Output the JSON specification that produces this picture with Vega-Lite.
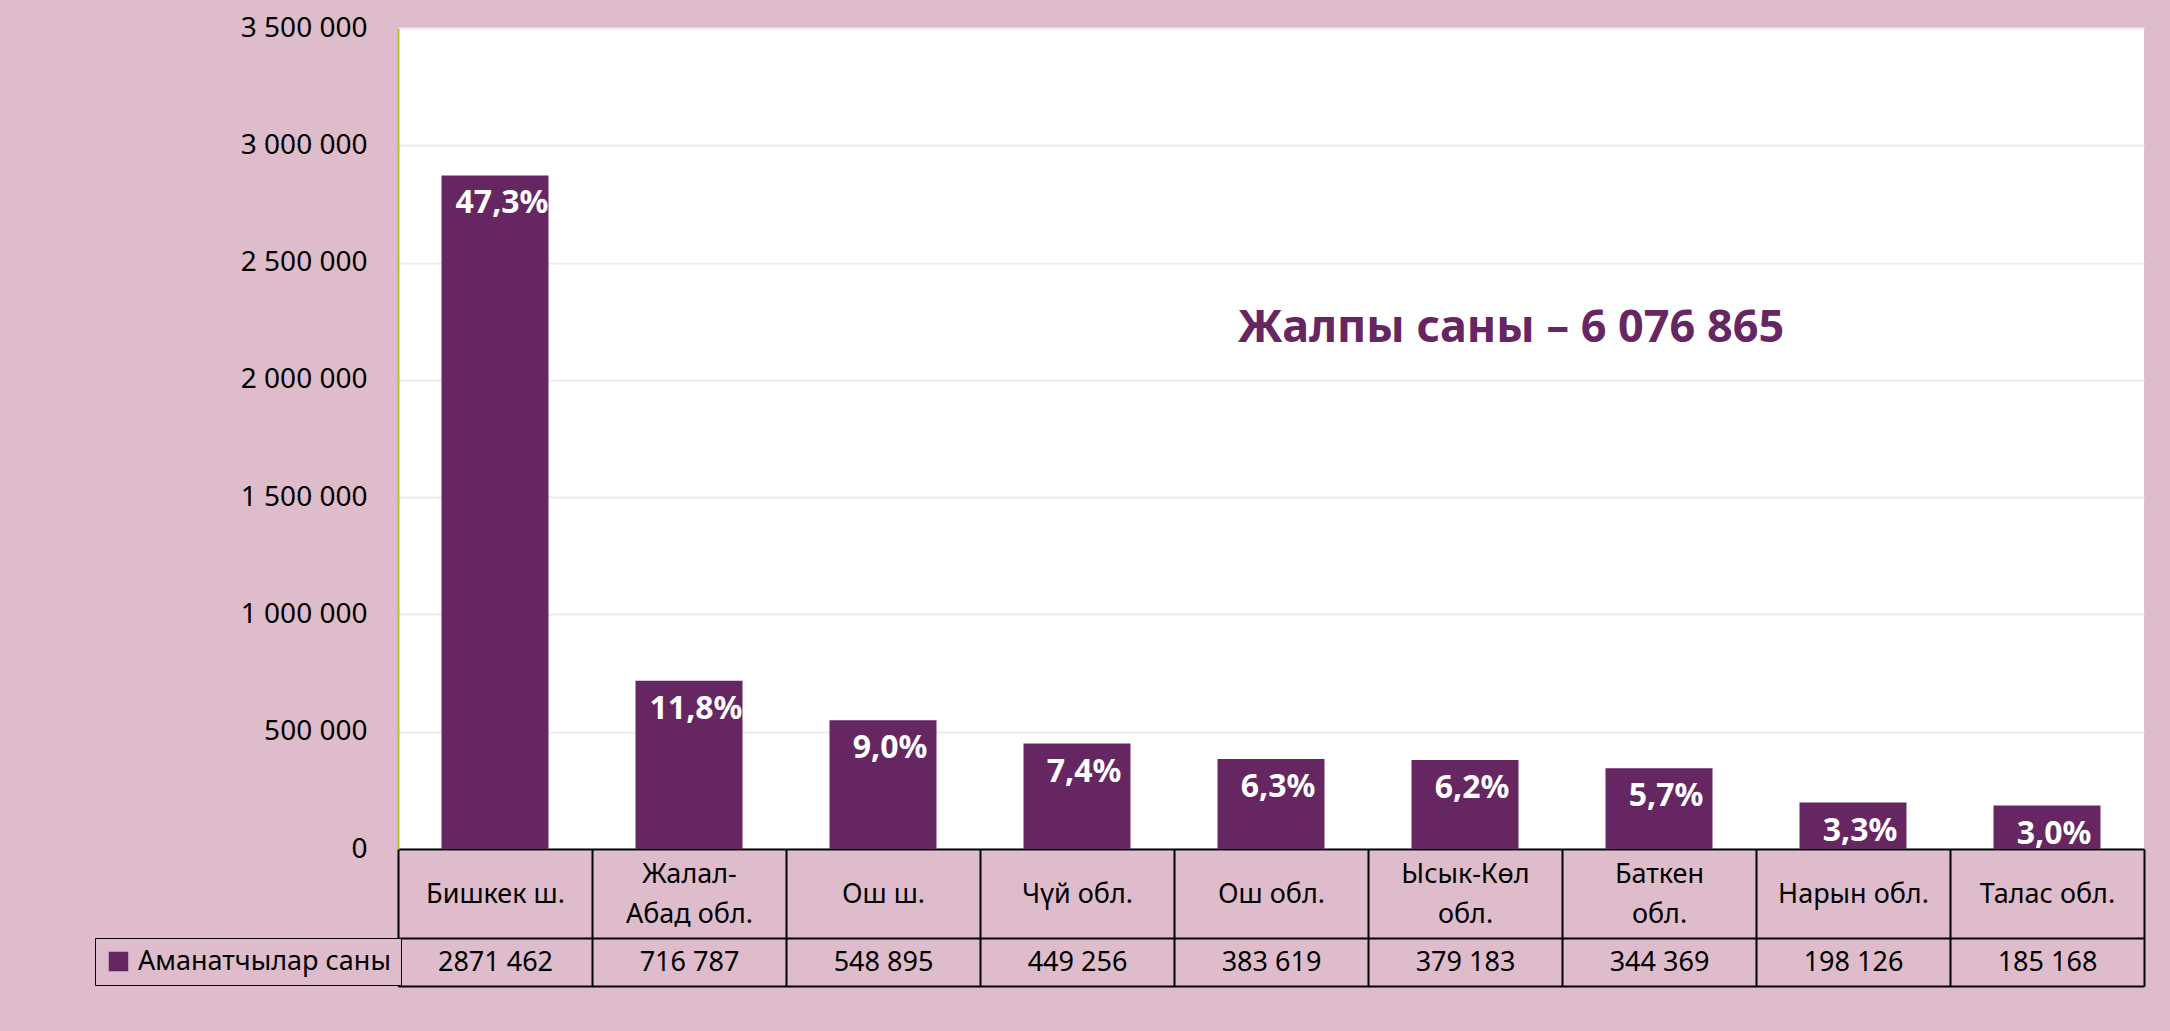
{
  "$schema": "https://vega.github.io/schema/vega-lite/v6.json",
  "width": 1746,
  "height": 821,
  "autosize": {"type": "none"},
  "padding": {"left": 398, "top": 28, "right": 26, "bottom": 182},
  "background": "#debccc",
  "config": {
    "locale": {"number": {"decimal": ",", "thousands": " ", "grouping": [3], "currency": ["", ""]}},
    "view": {"fill": "white", "stroke": null},
    "font": "Noto Sans",
    "axis": {"labelFont": "Noto Sans", "labelFontSize": 28, "labelColor": "#000000", "title": null}
  },
  "data": {
    "values": [
      {"region": "Бишкек ш.", "count": 2871462, "share": 0.473, "countText": "2871 462"},
      {"region": "Жалал-Абад обл.", "count": 716787, "share": 0.118, "countText": "716 787"},
      {"region": "Ош ш.", "count": 548895, "share": 0.090, "countText": "548 895"},
      {"region": "Чүй обл.", "count": 449256, "share": 0.074, "countText": "449 256"},
      {"region": "Ош обл.", "count": 383619, "share": 0.063, "countText": "383 619"},
      {"region": "Ысык-Көл обл.", "count": 379183, "share": 0.062, "countText": "379 183"},
      {"region": "Баткен обл.", "count": 344369, "share": 0.057, "countText": "344 369"},
      {"region": "Нарын обл.", "count": 198126, "share": 0.033, "countText": "198 126"},
      {"region": "Талас обл.", "count": 185168, "share": 0.030, "countText": "185 168"}
    ]
  },
  "layer": [
    {
      "mark": {"type": "bar", "width": {"band": 0.5515}},
      "encoding": {
        "x": {
          "field": "region", "type": "nominal", "sort": null,
          "scale": {"paddingInner": 0, "paddingOuter": 0},
          "axis": {
            "orient": "bottom", "offset": 0, "title": null,
            "domain": true, "domainColor": "#000000", "domainWidth": 2,
            "ticks": true, "tickBand": "extent", "tickSize": 137, "tickColor": "#000000", "tickWidth": 2,
            "labelAngle": 0, "labelBaseline": "middle", "labelLineHeight": 20, "labelPadding": -112,
            "labelFontSize": 27, "labelOverlap": false, "grid": false,
            "labelExpr": "datum.label == 'Жалал-Абад обл.' ? ['Жалал-', '\u200b', 'Абад обл.'] : (length(datum.label) > 10 ? [split(datum.label, ' ')[0], '\u200b', split(datum.label, ' ')[1]] : ['\u200b', datum.label])"
          }
        },
        "y": {
          "field": "count", "type": "quantitative",
          "scale": {"domain": [0, 3500000]},
          "axis": {
            "title": null,
            "values": [0, 500000, 1000000, 1500000, 2000000, 2500000, 3000000, 3500000],
            "format": ",d", "domainColor": "#adc22e", "domainWidth": 2, "ticks": false,
            "labelPadding": 31, "labelFontSize": 28,
            "grid": true, "gridColor": "#ececec", "gridWidth": 2
          }
        },
        "color": {
          "datum": "Аманатчылар саны", "type": "nominal",
          "scale": {"range": ["#662662"]},
          "legend": {
            "orient": "none", "legendX": -303, "legendY": 910, "title": null,
            "symbolType": "square", "symbolSize": 380, "symbolStrokeWidth": 0,
            "labelFont": "Noto Sans", "labelFontSize": 27, "labelColor": "#000000", "labelOffset": 6, "labelLimit": 500,
            "strokeColor": "#000000", "fillColor": "#debccc", "padding": 10
          }
        }
      }
    },
    {
      "mark": {"type": "text", "font": "Noto Sans", "fontWeight": "bold", "fontSize": 32, "color": "#ffffff", "baseline": "middle", "dy": 28, "dx": 7},
      "encoding": {
        "x": {
          "field": "countText", "type": "nominal", "sort": null,
          "scale": {"paddingInner": 0, "paddingOuter": 0},
          "axis": {
            "orient": "bottom", "offset": 137, "title": null,
            "domain": true, "domainColor": "#000000", "domainWidth": 2,
            "ticks": false, "labelAngle": 0, "labelBaseline": "middle", "labelPadding": -24,
            "labelFontSize": 27, "labelOverlap": false, "grid": false
          }
        },
        "y": {"field": "count", "type": "quantitative"},
        "text": {"field": "share", "type": "quantitative", "format": ".1%"}
      }
    },
    {
      "data": {"values": [{"label": "Жалпы саны – 6 076 865"}]},
      "mark": {"type": "text", "font": "Noto Sans", "fontWeight": "bold", "fontSize": 45, "color": "#662662", "baseline": "middle", "dx": 240},
      "encoding": {
        "x": {
          "datum": "Жалпы", "type": "nominal",
          "axis": {
            "orient": "bottom", "offset": 89, "title": null,
            "domain": true, "domainColor": "#000000", "domainWidth": 2,
            "ticks": false, "labels": false, "grid": false
          }
        },
        "y": {"datum": 2220000, "type": "quantitative"},
        "text": {"field": "label"}
      }
    }
  ],
  "resolve": {"scale": {"x": "independent"}, "axis": {"x": "independent"}}
}
